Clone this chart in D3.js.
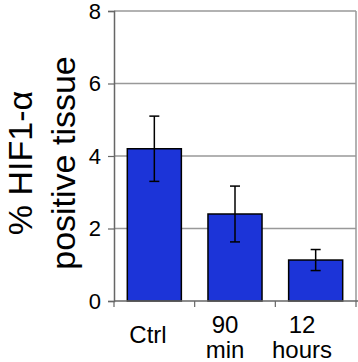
<!DOCTYPE html>
<html>
<head>
<meta charset="utf-8">
<script src="https://cdn.jsdelivr.net/npm/d3@7"></script>
<style>
  html, body { margin: 0; padding: 0; background: #fff; }
  svg { display: block; }
  text { font-family: "Liberation Sans", Arial, sans-serif; fill: #000; }
</style>
</head>
<body>
<svg id="chart" width="358" height="362"></svg>
<script>
const categories = [["Ctrl"], ["90", "min"], ["12", "hours"]];
const values = [4.2, 2.4, 1.13];
const errors = [0.9, 0.77, 0.29];
const yTicks = [0, 2, 4, 6, 8];
const yTitle = ["% HIF1-\u03b1", "positive tissue"];

const svg = d3.select("#chart");
const mLeft = 114, mRight = 356, mTop = 11, mBottom = 301;

const x = d3.scaleBand().domain(d3.range(categories.length)).range([mLeft, mRight]).paddingInner(0.33).paddingOuter(0.165);
const xb = d3.scaleBand().domain(d3.range(categories.length)).range([mLeft, mRight]);
const xLab = d3.scalePoint().domain(d3.range(categories.length)).range([148, 302]);
const y = d3.scaleLinear().domain([0, 8]).range([mBottom, mTop]);

// gridlines
svg.append("g").selectAll("line").data(yTicks.filter(d => d > 0)).join("line")
  .attr("x1", mLeft).attr("x2", mRight)
  .attr("y1", d => y(d)).attr("y2", d => y(d))
  .attr("stroke", "#999").attr("stroke-width", 1.5);
// right border
svg.append("line").attr("x1", mRight).attr("x2", mRight).attr("y1", mTop).attr("y2", mBottom)
  .attr("stroke", "#999").attr("stroke-width", 1.5);

// bars
svg.append("g").selectAll("rect").data(values).join("rect")
  .attr("x", (d, i) => x(i)).attr("width", x.bandwidth())
  .attr("y", d => y(d)).attr("height", d => y(0) - y(d))
  .attr("fill", "#1c34d8").attr("stroke", "#000").attr("stroke-width", 1.5);

// error bars
const eg = svg.append("g").attr("stroke", "#000").attr("stroke-width", 1.5);
values.forEach((v, i) => {
  const cx = x(i) + x.bandwidth() / 2;
  eg.append("line").attr("x1", cx).attr("x2", cx).attr("y1", y(v + errors[i])).attr("y2", y(v - errors[i]));
  eg.append("line").attr("x1", cx - 5).attr("x2", cx + 5).attr("y1", y(v + errors[i])).attr("y2", y(v + errors[i]));
  eg.append("line").attr("x1", cx - 5).attr("x2", cx + 5).attr("y1", y(v - errors[i])).attr("y2", y(v - errors[i]));
});

// y axis
const yAxis = d3.axisLeft(y).tickValues(yTicks).tickSize(6).tickPadding(7).tickFormat(d3.format("d"));
const ya = svg.append("g").attr("transform", `translate(${mLeft},0)`).call(yAxis);
ya.select(".domain").attr("stroke", "#666").attr("stroke-width", 1.5);
ya.selectAll(".tick line").attr("stroke", "#666").attr("stroke-width", 1.2);
ya.selectAll(".tick text").attr("font-size", 22).attr("font-family", "Liberation Sans, Arial, sans-serif").attr("fill", "#000");

// x axis line and ticks at band boundaries
svg.append("line").attr("x1", mLeft).attr("x2", mRight + 2).attr("y1", mBottom).attr("y2", mBottom)
  .attr("stroke", "#666").attr("stroke-width", 1.5);
const bounds = d3.range(categories.length + 1).map(i => i < categories.length ? xb(i) : mRight);
svg.append("g").selectAll("line").data(bounds).join("line")
  .attr("x1", d => d).attr("x2", d => d).attr("y1", mBottom).attr("y2", mBottom + 6)
  .attr("stroke", "#666").attr("stroke-width", 1.2);

// x labels
const xl = svg.append("g").selectAll("text").data(categories).join("text")
  .attr("text-anchor", "middle").attr("font-size", 24)
  .attr("x", (d, i) => xLab(i))
  .attr("y", d => d.length === 1 ? 343 : 333);
xl.each(function(d) {
  const t = d3.select(this);
  d.forEach((s, j) => t.append("tspan").attr("x", t.attr("x")).attr("dy", j === 0 ? 0 : 25).text(s));
});

// y title
const yt = svg.append("text").attr("text-anchor", "middle").attr("font-size", 34)
  .attr("transform", "translate(32,163) rotate(-90)");
yTitle.forEach((s, j) => yt.append("tspan").attr("x", 0).attr("dy", j === 0 ? 0 : 43).text(s));
</script>
</body>
</html>
